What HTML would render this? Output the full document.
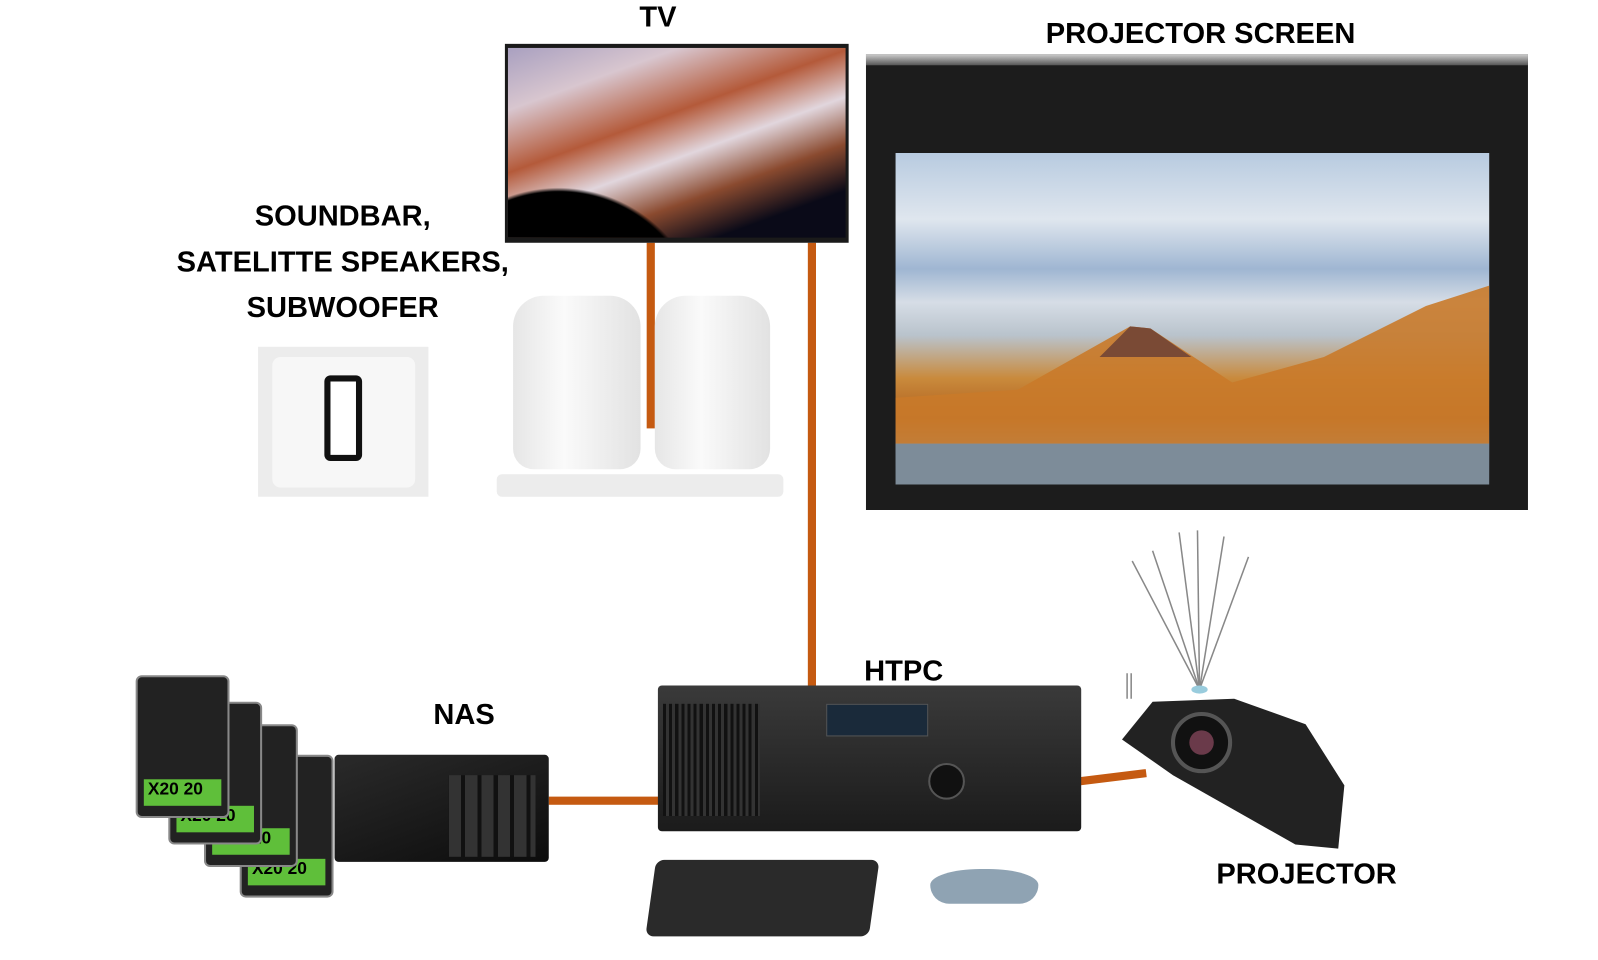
<!DOCTYPE html>
<html><head><meta charset="utf-8"><style>
body{margin:0;width:1598px;height:960px;background:#fff;position:relative;overflow:hidden;font-family:"Liberation Sans",sans-serif}
#w{position:absolute;left:0;top:0;width:1560px;height:940px;transform:scale(1.02);transform-origin:0 0}
.l{position:absolute;font-weight:bold;font-size:28.5px;color:#000;text-align:center;white-space:nowrap;line-height:1}
.a{position:absolute}
.o{position:absolute;background:#C55A11}
</style></head><body><div id="w">
<div class="l" style="left:605px;top:3px;width:80px">TV</div>
<div class="l" style="left:977px;top:19px;width:400px">PROJECTOR SCREEN</div>
<div class="l" style="left:136px;top:190px;width:400px;line-height:45px">SOUNDBAR,<br>SATELITTE SPEAKERS,<br>SUBWOOFER</div>
<div class="l" style="left:806px;top:644px;width:160px">HTPC</div>
<div class="l" style="left:395px;top:687px;width:120px">NAS</div>
<div class="l" style="left:1161px;top:843px;width:240px">PROJECTOR</div>

<div class="o" style="left:634px;top:238px;width:8px;height:182px"></div>
<div class="o" style="left:792px;top:238px;width:8px;height:437px"></div>
<div class="o" style="left:538px;top:781px;width:108px;height:8px"></div>
<div class="o" style="left:1058px;top:758px;width:66px;height:8px;transform:rotate(-7deg)"></div>

<div class="a" style="left:495px;top:43px;width:337px;height:195px;background:#1a1a1a"></div>
<div class="a" style="left:498px;top:47px;width:331px;height:186px;background:radial-gradient(ellipse at 15% 150%,#000 0%,#000 35%,transparent 36%),linear-gradient(160deg,#a9a0c0 0%,#d8c6cf 20%,#b45a3a 40%,#e1d6dd 55%,#8a4a2f 70%,#0a0a18 85%)"></div>

<div class="a" style="left:849px;top:53px;width:649px;height:447px;background:#1c1c1c"></div>
<div class="a" style="left:849px;top:53px;width:649px;height:11px;background:linear-gradient(180deg,#d0d0d0,#555)"></div>
<div class="a" style="left:878px;top:150px;width:582px;height:325px;background:linear-gradient(180deg,#b8cbe0 0%,#dfe6ee 20%,#9fb6d2 35%,#d6dde6 45%,#b9c3cc 55%,#c98a3c 68%,#b0601e 80%,#8a9ab0 88%,#54606a 100%)"></div>
<svg class="a" style="left:878px;top:150px" width="582" height="325"><polygon points="120,232 230,170 250,172 330,225 420,200 520,150 582,130 582,285 0,285 0,240" fill="#c97a2a" opacity=".9"/><polygon points="200,200 230,170 250,172 290,200" fill="#7a4a35"/><rect x="0" y="285" width="582" height="40" fill="#7d8c99"/></svg>

<div class="a" style="left:253px;top:340px;width:167px;height:147px;background:#ececec"></div>
<div class="a" style="left:267px;top:350px;width:140px;height:128px;background:#f7f7f7;border-radius:8px"></div>
<div class="a" style="left:318px;top:368px;width:25px;height:72px;border:6px solid #111;border-radius:6px;background:#fff"></div>

<div class="a" style="left:503px;top:290px;width:125px;height:170px;background:linear-gradient(90deg,#e6e6e6,#fafafa 40%,#e2e2e2);border-radius:30px 30px 20px 20px"></div>
<div class="a" style="left:642px;top:290px;width:113px;height:170px;background:linear-gradient(90deg,#e6e6e6,#fafafa 40%,#e2e2e2);border-radius:30px 30px 20px 20px"></div>
<div class="a" style="left:487px;top:465px;width:281px;height:22px;background:#ececec;border-radius:5px"></div>

<div class="a" style="left:235px;top:740px;width:88px;height:136px;background:#222;border-radius:6px;border:2px solid #888"><div style="margin:100px 6px 0;height:26px;background:#5fbf3a;font:bold 17px 'Liberation Sans';color:#000;padding-left:4px">X20 20</div></div>
<div class="a" style="left:200px;top:710px;width:88px;height:136px;background:#222;border-radius:6px;border:2px solid #888"><div style="margin:100px 6px 0;height:26px;background:#5fbf3a;font:bold 17px 'Liberation Sans';color:#000;padding-left:4px">X20 20</div></div>
<div class="a" style="left:165px;top:688px;width:88px;height:136px;background:#222;border-radius:6px;border:2px solid #888"><div style="margin:100px 6px 0;height:26px;background:#5fbf3a;font:bold 17px 'Liberation Sans';color:#000;padding-left:4px">X20 20</div></div>
<div class="a" style="left:133px;top:662px;width:88px;height:136px;background:#222;border-radius:6px;border:2px solid #888"><div style="margin:100px 6px 0;height:26px;background:#5fbf3a;font:bold 17px 'Liberation Sans';color:#000;padding-left:4px">X20 20</div></div>

<div class="a" style="left:328px;top:740px;width:210px;height:105px;background:linear-gradient(160deg,#2a2a2a,#0c0c0c);border-radius:4px"></div>
<div class="a" style="left:440px;top:760px;width:85px;height:80px;background:repeating-linear-gradient(90deg,#333 0 12px,#111 12px 16px)"></div>

<div class="a" style="left:645px;top:672px;width:415px;height:143px;background:linear-gradient(180deg,#3a3a3a,#1b1b1b);border-radius:4px"></div>
<div class="a" style="left:810px;top:690px;width:98px;height:30px;background:#1a2a3a;border:1px solid #555"></div>
<div class="a" style="left:910px;top:748px;width:32px;height:32px;border-radius:50%;background:#111;border:2px solid #555"></div>
<div class="a" style="left:650px;top:690px;width:95px;height:110px;background:repeating-linear-gradient(90deg,#111 0 3px,#333 3px 6px)"></div>

<div class="a" style="left:638px;top:843px;width:219px;height:75px;background:#2a2a2a;border-radius:8px;transform:skewX(-8deg)"></div>
<div class="a" style="left:912px;top:852px;width:106px;height:34px;background:#8fa3b3;border-radius:50% 50% 20px 20px"></div>

<svg class="a" style="left:1090px;top:510px" width="240" height="330">
<g stroke="#888" stroke-width="1.5"><line x1="86" y1="166" x2="20" y2="40"/><line x1="86" y1="166" x2="40" y2="30"/><line x1="86" y1="166" x2="66" y2="12"/><line x1="86" y1="166" x2="84" y2="10"/><line x1="86" y1="166" x2="110" y2="16"/><line x1="86" y1="166" x2="134" y2="36"/><line x1="15" y1="150" x2="15" y2="175"/><line x1="19" y1="150" x2="19" y2="175"/></g>
<ellipse cx="86" cy="166" rx="8" ry="4" fill="#9cd"/>
<path d="M10 215 L40 178 L120 175 L190 200 L228 260 L222 322 L180 318 L60 250 Z" fill="#222"/>
<circle cx="88" cy="218" r="28" fill="#111" stroke="#555" stroke-width="4"/><circle cx="88" cy="218" r="12" fill="#6a3a4a"/>
</svg>
</div></body></html>
